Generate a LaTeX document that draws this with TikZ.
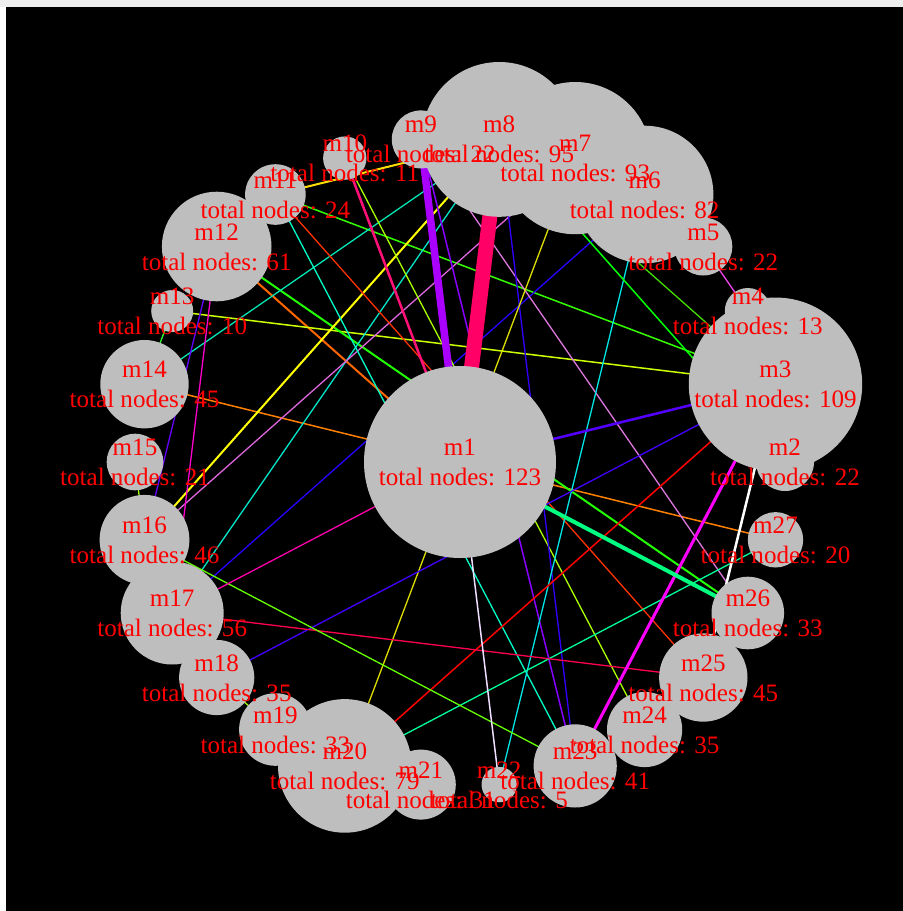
\documentclass[tikz,border=0pt]{standalone}
\usepackage{fontspec}
\setmainfont{Liberation Serif}
\pgfdeclarelayer{back}
\pgfdeclarelayer{edges}
\pgfsetlayers{back,edges,main}
\definecolor{nodegray}{RGB}{190,190,190}
\definecolor{topstrip}{RGB}{238,238,238}
\definecolor{eA}{HTML}{FF0066}
\definecolor{eB}{HTML}{AA00FF}
\definecolor{eC}{HTML}{00FF80}
\definecolor{eD}{HTML}{FF00FF}
\definecolor{eE}{HTML}{FFFFFF}
\definecolor{eF}{HTML}{5500FF}
\definecolor{eG}{HTML}{FF1177}
\definecolor{eH}{HTML}{AAFF00}
\definecolor{eI}{HTML}{00FFC8}
\definecolor{eJ}{HTML}{FF3300}
\definecolor{eK}{HTML}{FFDD00}
\definecolor{eL}{HTML}{33FF00}
\definecolor{eM}{HTML}{FF6600}
\definecolor{eN}{HTML}{22FF00}
\definecolor{eO}{HTML}{FF00CC}
\definecolor{eP}{HTML}{6600FF}
\definecolor{eQ}{HTML}{CCFF00}
\definecolor{eR}{HTML}{33FF33}
\definecolor{eS}{HTML}{00E6B4}
\definecolor{eT}{HTML}{FF8000}
\definecolor{eU}{HTML}{FFFF00}
\definecolor{eV}{HTML}{DD66DD}
\definecolor{eW}{HTML}{66FF00}
\definecolor{eX}{HTML}{99FF00}
\definecolor{eY}{HTML}{00E6C8}
\definecolor{eZ}{HTML}{FF0050}
\definecolor{fA}{HTML}{FF00AA}
\definecolor{fB}{HTML}{2800FF}
\definecolor{fC}{HTML}{00E6E6}
\definecolor{fD}{HTML}{DDDD00}
\definecolor{fE}{HTML}{3300FF}
\definecolor{fF}{HTML}{44DD00}
\definecolor{fG}{HTML}{00FF00}
\definecolor{fH}{HTML}{8800FF}
\definecolor{fI}{HTML}{DD77DD}
\definecolor{fJ}{HTML}{4400FF}
\definecolor{fK}{HTML}{FF0000}
\definecolor{fL}{HTML}{00FF99}
\definecolor{fM}{HTML}{EEDDFF}
\definecolor{fN}{HTML}{EE44EE}
\begin{document}
\begin{tikzpicture}[x=0.75pt,y=-0.75pt,
  nd/.style={circle,fill=nodegray,inner sep=0pt,minimum size=#1*1.5pt},
  lab/.style={anchor=base,inner sep=0pt,text=red,font=\fontsize{18.8}{22}\selectfont},
  edgeline/.style={line cap=butt}]
\useasboundingbox (0,0) rectangle (903,911);
\begin{pgfonlayer}{back}
  \fill[white] (0,0) rectangle (903,911);
  \fill[topstrip] (0,0) rectangle (903,7);
  \fill[black] (6,7) rectangle (903,911);
\end{pgfonlayer}
% circles
\foreach \k/\x/\y/\r in {
  1/460/462/96.0, 2/785/462/29.0, 3/775.5/384.2/86.7, 4/747.8/311.0/23.0,
  5/703.3/246.5/29.0, 6/644.6/194.5/68.8, 7/575.2/158.1/76.1, 8/499.2/139.4/77.4,
  9/420.8/139.4/29.0, 10/344.8/158.1/21.7, 11/275.4/194.5/30.3, 12/216.7/246.5/54.8,
  13/172.2/311.0/21.0, 14/144.5/384.2/44.2, 15/135/462/28.3, 16/144.5/539.8/44.9,
  17/172.2/613.0/51.5, 18/216.7/677.5/37.6, 19/275.4/729.5/36.3, 20/344.8/765.9/66.8,
  21/420.8/784.6/35.0, 22/499.2/784.6/17.7, 23/575.2/765.9/41.6, 24/644.6/729.5/37.6,
  25/703.3/677.5/44.2, 26/747.8/613.0/36.3, 27/775.5/539.8/27.7}
  {\node[nd=\r] (n\k) at (\x,\y) {};}
% labels
\foreach \k/\x/\y/\n in {
  1/460/462/123, 2/785/462/22, 3/775.5/384.2/109, 4/747.8/311.0/13,
  5/703.3/246.5/22, 6/644.6/194.5/82, 7/575.2/158.1/93, 8/499.2/139.4/95,
  9/420.8/139.4/22, 10/344.8/158.1/11, 11/275.4/194.5/24, 12/216.7/246.5/61,
  13/172.2/311.0/10, 14/144.5/384.2/45, 15/135/462/21, 16/144.5/539.8/46,
  17/172.2/613.0/56, 18/216.7/677.5/35, 19/275.4/729.5/33, 20/344.8/765.9/79,
  21/420.8/784.6/31, 22/499.2/784.6/5, 23/575.2/765.9/41, 24/644.6/729.5/35,
  25/703.3/677.5/45, 26/747.8/613.0/33, 27/775.5/539.8/20}
  {\node[lab] (ta\k) at (\x,\y-6.5) {m\k};
   \node[lab] (tb\k) at (\x,\y+23.5) {total nodes: \n};}
% edges
\begin{pgfonlayer}{edges}
\foreach \a/\b/\c/\w in {
  14/27/eT/1.5, 12/1/eM/2, 13/3/eQ/1.5, 11/3/eL/1.5, 12/26/eN/2,
  16/8/eU/2, 14/8/eS/1.3, 17/8/eY/1.3, 16/7/eV/1.3, 6/17/fB/1.3,
  11/23/eI/1.3, 11/25/eJ/1.3, 11/8/eK/2, 10/24/eH/1.3, 9/26/fI/1.3,
  8/23/fE/1.3, 9/23/fH/1.5, 7/20/fD/1.3, 6/22/fC/1.3, 8/3/fF/1.3,
  8/2/fG/1.5, 3/18/fJ/1.3, 3/20/fK/1.5, 20/27/fL/1.3, 17/25/eZ/1.3,
  16/23/eW/1.3, 12/17/eO/1.3, 12/16/eP/1.3, 13/14/eR/1.3, 15/16/eX/1.3,
  18/19/eX/1.3, 5/4/fN/1.3, 1/17/fA/1.3, 1/22/fM/1.5, 1/3/eF/2.5,
  10/1/eG/2.5, 25/3/eE/2.5, 23/3/eD/3, 1/26/eC/4, 1/9/eB/7.5, 1/8/eA/15}
  {\draw[edgeline,draw=\c,line width=\w*0.75pt] (n\a.center) -- (n\b.center);}
\end{pgfonlayer}
\end{tikzpicture}
\end{document}
